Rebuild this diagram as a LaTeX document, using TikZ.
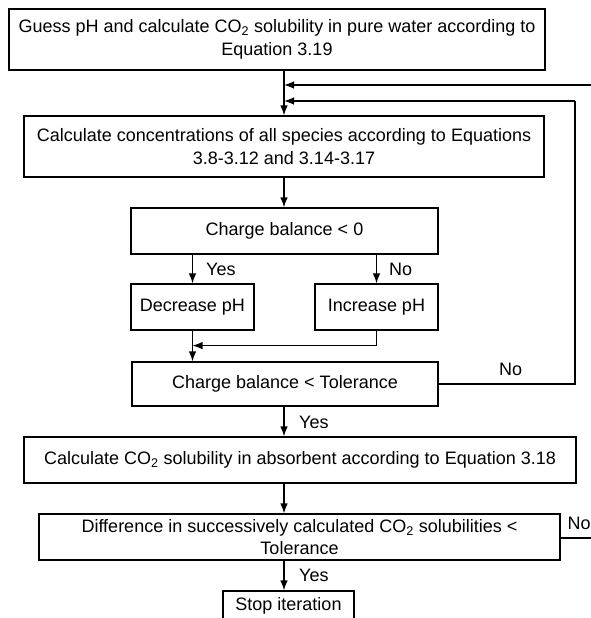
\documentclass[tikz,border=0pt]{standalone}
\usepackage{fontspec}
\setmainfont{Liberation Sans}
\usetikzlibrary{arrows.meta}
\tikzset{
  flowbox/.style={draw, line width=1.2pt, inner sep=0pt, align=center, font=\fontsize{18}{22.5}\selectfont},
  lbl/.style={inner sep=0pt, font=\fontsize{18}{22.5}\selectfont},
  conn/.style={line width=1.2pt},
  arr/.style={conn, -{Latex[length=10pt,width=7.5pt]}}
}
\begin{document}
\begin{tikzpicture}[x=1pt,y=-1pt]
\useasboundingbox (0,0) rectangle (591,618);
\clip (0,0) rectangle (591,618);
\node[flowbox, minimum width=536pt, minimum height=61pt] (b1) at (277,39.5)
  {Guess pH and calculate CO\textsubscript{2} solubility in pure water according to\\Equation 3.19};
\node[flowbox, minimum width=520pt, minimum height=61pt] (b2) at (284,146.5)
  {Calculate concentrations of all species according to Equations\\3.8-3.12 and 3.14-3.17};
\node[flowbox, minimum width=307pt, minimum height=46pt] (b3) at (284.5,231) {Charge balance < 0};
\node[flowbox, minimum width=123pt, minimum height=46pt] (dec) at (192.5,307) {Decrease pH};
\node[flowbox, minimum width=123pt, minimum height=46pt] (inc) at (376.5,307) {Increase pH};
\node[flowbox, minimum width=306pt, minimum height=44pt] (tol) at (285,384) {Charge balance < Tolerance};
\node[flowbox, minimum width=552pt, minimum height=46pt] (calc) at (300,460)
  {Calculate CO\textsubscript{2} solubility in absorbent according to Equation 3.18};
\node[flowbox, minimum width=521pt, minimum height=46pt] (diff) at (299.5,537)
  {Difference in successively calculated CO\textsubscript{2} solubilities <\\Tolerance};
\node[flowbox, minimum width=131pt, minimum height=29pt] (stop) at (288.5,605.5) {Stop iteration};

\coordinate (f1) at (591,85);
\coordinate (f2) at (575,101);
\coordinate (f3) at (591,538);

\draw[arr] (b1.south -| b2.north) -- (b2.north);
\draw[arr] (f1) -- (f1 -| b2.north);
\draw[conn] (tol.east) -- (tol.east -| f2) -- (f2);
\draw[arr] (f2) -- (f2 -| b2.north);
\draw[arr] (b2.south) -- (b2.south |- b3.north);
\draw[arr] (b3.south -| dec.north) -- (dec.north);
\draw[arr] (b3.south -| inc.north) -- (inc.north);
\draw[conn] (inc.south) -- ++(0,15) coordinate (m1);
\draw[arr] (m1) -- (m1 -| dec.south);
\draw[arr] (dec.south) -- (dec.south |- tol.north);
\draw[arr] (tol.south -| b2.south) -- (b2.south |- calc.north);
\draw[arr] (calc.south -| b2.south) -- (b2.south |- diff.north);
\draw[arr] (diff.south -| b2.south) -- (b2.south |- stop.north);
\draw[conn] (diff.east |- f3) -- (f3);

\node[lbl, anchor=west] (y1) at (206,269) {Yes};
\node[lbl, anchor=west] (n1) at (389,269) {No};
\node[lbl, anchor=west] (n2) at (499,369) {No};
\node[lbl, anchor=west] (y2) at (299,422) {Yes};
\node[lbl, anchor=west] (y3) at (299,575) {Yes};
\node[lbl, anchor=west] (n3) at (567.5,523) {No};
\end{tikzpicture}
\end{document}
